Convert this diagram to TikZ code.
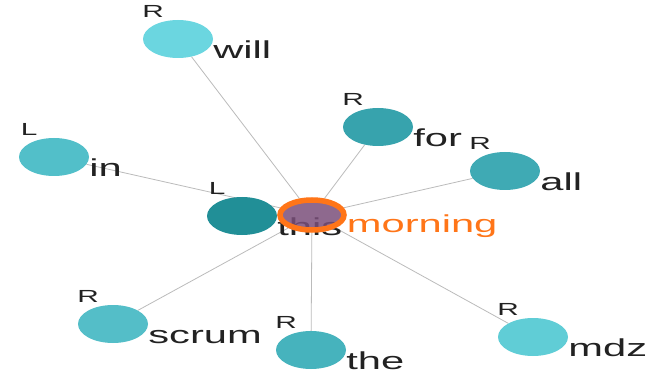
\documentclass[tikz,border=0pt]{standalone}
\usepackage{fontspec}
\setmainfont{Liberation Sans}
\newfontfamily\wordfont[FakeStretch=1.7]{Liberation Sans}
\usetikzlibrary{shapes.geometric,backgrounds}

\definecolor{c_will}{HTML}{6BD6E0}
\definecolor{c_in}{HTML}{52BFC9}
\definecolor{c_for}{HTML}{37A3AD}
\definecolor{c_all}{HTML}{3FAAB4}
\definecolor{c_this}{HTML}{218F97}
\definecolor{c_scrum}{HTML}{54BEC8}
\definecolor{c_the}{HTML}{46B3BD}
\definecolor{c_mdz}{HTML}{60CDD6}
\definecolor{c_purple}{HTML}{7A4F7A}
\definecolor{c_orange}{HTML}{FF7518}
\definecolor{c_text}{HTML}{222222}
\definecolor{c_link}{HTML}{BBBBBB}

\begin{document}
\begin{tikzpicture}[x=1pt, y=-1pt,
    tok/.style = {ellipse, minimum width=70pt, minimum height=38pt, inner sep=0pt},
    word/.style = {font=\wordfont\fontsize{24.5}{24.5}\selectfont, text=c_text, inner sep=0pt, anchor=base west},
    side/.style = {font=\wordfont\fontsize{17.5}{17.5}\selectfont, text=c_text, inner sep=0pt, anchor=south},
    link/.style = {draw=c_link, line width=0.8pt}]
    \useasboundingbox (0,0) rectangle (667,377);

    % words round the centre
    \node[tok, fill=c_will] (n_will) at (178,39) {};
    \node[tok, fill=c_in] (n_in) at (54,157) {};
    \node[tok, fill=c_for] (n_for) at (378,127) {};
    \node[tok, fill=c_all] (n_all) at (505,171) {};
    \node[tok, fill=c_this] (n_this) at (242,216) {};
    \node[tok, fill=c_scrum] (n_scrum) at (113,324) {};
    \node[tok, fill=c_the] (n_the) at (311,350) {};
    \node[tok, fill=c_mdz] (n_mdz) at (533,337) {};

    \node[word] (w_will) at (n_will.south -| n_will.east) {will};
    \node[word] (w_in) at (n_in.south -| n_in.east) {in};
    \node[word] (w_for) at (n_for.south -| n_for.east) {for};
    \node[word] (w_all) at (n_all.south -| n_all.east) {all};
    \node[word] (w_this) at (n_this.south -| n_this.east) {this};
    \node[word] (w_scrum) at (n_scrum.south -| n_scrum.east) {scrum};
    \node[word] (w_the) at (n_the.south -| n_the.east) {the};
    \node[word] (w_mdz) at (n_mdz.south -| n_mdz.east) {mdz};

    \node[side] (s_will) at ([yshift=8pt]n_will.north west) {R};
    \node[side] (s_in) at ([yshift=8pt]n_in.north west) {L};
    \node[side] (s_for) at ([yshift=8pt]n_for.north west) {R};
    \node[side] (s_all) at ([yshift=8pt]n_all.north west) {R};
    \node[side] (s_this) at ([yshift=8pt]n_this.north west) {L};
    \node[side] (s_scrum) at ([yshift=8pt]n_scrum.north west) {R};
    \node[side] (s_the) at ([yshift=8pt]n_the.north west) {R};
    \node[side] (s_mdz) at ([yshift=8pt]n_mdz.north west) {R};

    % the focus word
    \node[ellipse, draw=c_orange, line width=5.5pt, fill=c_purple, fill opacity=0.85,
          minimum width=64pt, minimum height=30pt, inner sep=0pt] (n_morning) at (312,215) {};
    \node[word, text=c_orange] (w_morning) at (n_morning.south -| n_morning.east) {morning};

    \begin{scope}[on background layer]
        \draw[link] (n_morning) -- (n_will);
        \draw[link] (n_morning) -- (n_in);
        \draw[link] (n_morning) -- (n_for);
        \draw[link] (n_morning) -- (n_all);
        \draw[link] (n_morning) -- (n_this);
        \draw[link] (n_morning) -- (n_scrum);
        \draw[link] (n_morning) -- (n_the);
        \draw[link] (n_morning) -- (n_mdz);
    \end{scope}
\end{tikzpicture}
\end{document}
